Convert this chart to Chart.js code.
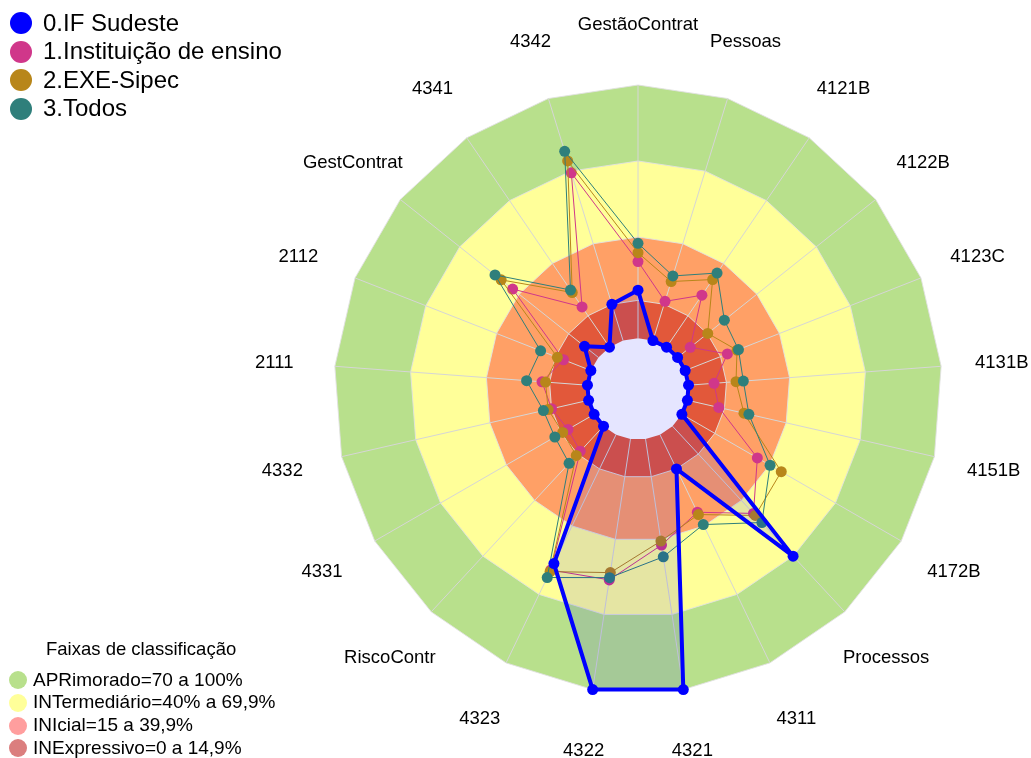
<!DOCTYPE html>
<html>
<head>
<meta charset="utf-8">
<script src="https://cdn.jsdelivr.net/npm/chart.js@4.4.1/dist/chart.umd.min.js"></script>
<style>
  body { margin: 0; background: #fff; font-family: "Liberation Sans", Arial, sans-serif; }
  #wrap { position: relative; width: 1031px; height: 758px; overflow: hidden; }
  #radar { position: absolute; left: 0; top: 0; }
  .item { position: absolute; white-space: nowrap; color: #000; }
  .dot { position: absolute; border-radius: 50%; }
</style>
</head>
<body>
<div id="wrap">
  <canvas id="radar" width="1031" height="758"></canvas>
  <div id="legSeries"></div>
  <div id="legBands"></div>
</div>
<script>
// eixos (sentido horario a partir do topo)
const labels = ["GestãoContrat", "Pessoas", "4121B", "4122B", "4123C", "4131B", "4151B",
    "4172B", "Processos", "4311", "4321", "4322", "4323", "RiscoContr", "4331", "4332",
    "2111", "2112", "GestContrat", "4341", "4342"];

// valores (%)
const ifSudeste   = [19, 0, 0, 0, 0, 0, 0, 0, 70, 15, 100, 100, 56.5, 0, 0, 0, 0, 0, 7, 0, 15];
const instituicao = [30.3, 16.2, 24.8, 6.4, 17.9, 10.1, 12.7, 34.4, 47, 34, 42.3, 56.2, 59.3, 13.5, 11.9, 15, 18, 11.6, 43.3, 19.2, 69.3];
const exeSipec    = [33.8, 24.4, 32.3, 15.2, 22, 18.8, 22.9, 45.3, 48.1, 35, 40.7, 53.3, 60, 15.8, 14.3, 16.4, 16.6, 14.2, 49.1, 26.1, 74.2];
const todos       = [37.5, 26.7, 35.4, 23.6, 22.6, 21.7, 24.9, 40.2, 51.9, 39.4, 47, 55.3, 62.6, 20, 17.9, 18.3, 24.1, 21.3, 52.2, 27.3, 78.2];

const seriesNames  = ["0.IF Sudeste", "1.Instituição de ensino", "2.EXE-Sipec", "3.Todos"];
const seriesColors = ["#0000FF", "#D0378A", "#B8861A", "#2F7F7B"];

// faixas de classificacao
const bandLimits = [100, 70, 40, 15];
const bandNames  = ["APRimorado=70 a 100%", "INTermediário=40% a 69,9%", "INIcial=15 a 39,9%", "INExpressivo=0 a 14,9%"];
const bandFills  = ["#B8E08C", "#FFFF99", "#FFA066", "#E2583A"];
const bandDots   = ["#B8E08C", "#FFFF99", "#FF9E9E", "#DB7E7E"];

let datasets = [];

// series (ordem menor = desenhada por cima)
let seriesData = [ifSudeste, instituicao, exeSipec, todos];
let drawOrder = [0, 3, 2, 1];
seriesData.forEach((d, k) => {
    datasets.push({
        label: seriesNames[k],
        data: d,
        borderColor: seriesColors[k],
        borderWidth: k === 0 ? 4 : 1,
        borderJoinStyle: "round",
        backgroundColor: k === 0 ? "rgba(0,0,255,0.1)" : seriesColors[k],
        fill: k === 0 ? "start" : false,
        pointRadius: 5.5,
        pointBackgroundColor: seriesColors[k],
        pointBorderColor: seriesColors[k],
        pointBorderWidth: 0,
        order: drawOrder[k]
    });
});

// faixas de fundo
bandLimits.forEach((lim, k) => {
    datasets.push({
        label: bandNames[k],
        data: labels.map(() => lim),
        backgroundColor: bandFills[k],
        borderColor: "rgba(225,225,225,0.9)",
        borderWidth: 1,
        fill: "start",
        pointRadius: 0,
        order: 20 - k
    });
});

// miolo branco
datasets.push({
    label: "hole",
    data: labels.map(() => 0),
    backgroundColor: "#FFFFFF",
    borderWidth: 0,
    fill: "start",
    pointRadius: 0,
    order: 10,
    isHole: true
});

// linhas dos eixos, por cima das faixas
const axisLines = {
    id: "axisLines",
    afterDatasetDraw(chart, args) {
        if (!chart.data.datasets[args.index].isHole) return;
        let scale = chart.scales.r;
        let ctx = chart.ctx;
        ctx.save();
        ctx.strokeStyle = "#D6D6D6";
        ctx.lineWidth = 1;
        for (let i = 0; i < labels.length; i++) {
            let a = scale.getPointPositionForValue(i, 0);
            let b = scale.getPointPositionForValue(i, 100);
            ctx.beginPath();
            ctx.moveTo(a.x, a.y);
            ctx.lineTo(b.x, b.y);
            ctx.stroke();
        }
        ctx.restore();
    }
};

// rotulos dos eixos centrados num raio fixo
const axisLabels = {
    id: "axisLabels",
    afterDraw(chart) {
        let scale = chart.scales.r;
        let ctx = chart.ctx;
        ctx.save();
        ctx.font = '18.5px "Liberation Sans", Arial, sans-serif';
        ctx.fillStyle = "#000";
        ctx.textAlign = "center";
        ctx.textBaseline = "middle";
        for (let i = 0; i < labels.length; i++) {
            let p = scale.getPointPosition(i, scale.drawingArea * 1.2);
            ctx.fillText(labels[i], p.x, p.y + 1);
        }
        ctx.restore();
    }
};

new Chart(document.getElementById("radar"), {
    type: "radar",
    data: { labels: labels, datasets: datasets },
    options: {
        responsive: false,
        animation: false,
        layout: { padding: { left: 334, right: 89, top: 85, bottom: 65 } },
        plugins: {
            legend: { display: false },
            tooltip: { enabled: false },
            filler: { propagate: false }
        },
        scales: {
            r: {
                min: -20,
                max: 100,
                ticks: { display: false },
                grid: { display: false },
                angleLines: { display: false },
                pointLabels: { display: false }
            }
        }
    },
    plugins: [axisLines, axisLabels]
});

// legendas em HTML
function addItem(parent, text, color, cx, cy, r, tx, size) {
    let dot = document.createElement("div");
    dot.className = "dot";
    dot.style.left = (cx - r) + "px";
    dot.style.top = (cy - r) + "px";
    dot.style.width = dot.style.height = (2 * r) + "px";
    dot.style.background = color;
    parent.appendChild(dot);
    let t = document.createElement("div");
    t.className = "item";
    t.style.left = tx + "px";
    t.style.top = (cy - size * 0.6) + "px";
    t.style.fontSize = size + "px";
    t.style.lineHeight = (size * 1.2) + "px";
    t.textContent = text;
    parent.appendChild(t);
}

let legSeries = document.getElementById("legSeries");
seriesNames.forEach((n, k) => addItem(legSeries, n, seriesColors[k], 21, 23 + k * 28.5, 11, 43, 24));

let legBands = document.getElementById("legBands");
let title = document.createElement("div");
title.className = "item";
title.style.left = "46px";
title.style.top = "638px";
title.style.fontSize = "18.5px";
title.style.lineHeight = "22px";
title.textContent = "Faixas de classificação";
legBands.appendChild(title);
bandNames.forEach((n, k) => addItem(legBands, n, bandDots[k], 18, 680 + k * 22.8, 9, 33, 19));
</script>
</body>
</html>
